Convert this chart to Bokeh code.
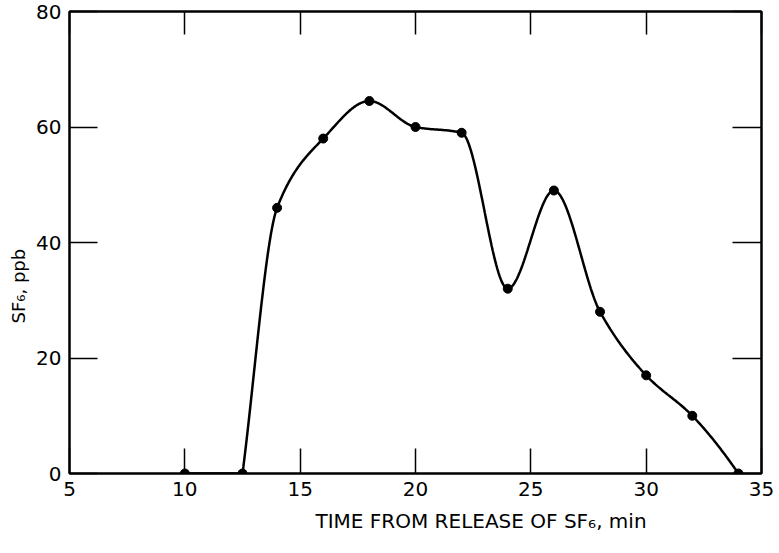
import numpy as np
from bokeh.plotting import figure
from bokeh.models import Range1d, LinearAxis, FixedTicker, Title, CustomLabelingPolicy
from bokeh.embed import file_html
from bokeh.resources import INLINE

# ---- data ----
time_min = [10, 12.5, 14, 16, 18, 20, 22, 24, 26, 28, 30, 32, 34]
sf6_ppb = [0, 0, 46, 58, 64.5, 60, 59, 32, 49, 28, 17, 10, 0]
x_ticks = [5, 10, 15, 20, 25, 30, 35]
y_ticks = [0, 20, 40, 60, 80]
x_title = "TIME FROM RELEASE OF SF₆, min"
y_title = "SF₆, ppb"

FONT = "DejaVu Sans"


def smooth_curve(xs, ys, n=40):
    """Monotone (PCHIP-like) Hermite smoothing through the points."""
    xs = np.asarray(xs, float)
    ys = np.asarray(ys, float)
    h = np.diff(xs)
    delta = np.diff(ys) / h
    m = len(xs)
    d = np.zeros(m)
    for k in range(1, m - 1):
        if delta[k - 1] * delta[k] <= 0:
            d[k] = 0.0
        else:
            w1 = 2 * h[k] + h[k - 1]
            w2 = h[k] + 2 * h[k - 1]
            d[k] = (w1 + w2) / (w1 / delta[k - 1] + w2 / delta[k])
    d[0] = delta[0]
    de = ((2 * h[-1] + h[-2]) * delta[-1] - h[-1] * delta[-2]) / (h[-1] + h[-2])
    if np.sign(de) != np.sign(delta[-1]):
        de = 0.0
    d[-1] = de
    outx, outy = [], []
    for k in range(m - 1):
        t = np.linspace(0, 1, n, endpoint=(k == m - 2))
        h00 = 2 * t**3 - 3 * t**2 + 1
        h10 = t**3 - 2 * t**2 + t
        h01 = -2 * t**3 + 3 * t**2
        h11 = t**3 - t**2
        outx.extend(xs[k] + t * h[k])
        outy.extend(h00 * ys[k] + h10 * h[k] * d[k] + h01 * ys[k + 1] + h11 * h[k] * d[k + 1])
    return outx, outy


# flat part before the rise, then smooth curve through the remaining points
cx, cy = smooth_curve(time_min[1:], sf6_ppb[1:])
cx = [time_min[0]] + list(cx)
cy = [sf6_ppb[0]] + list(cy)

p = figure(frame_width=692, frame_height=462,
           x_range=Range1d(5, 35), y_range=Range1d(0, 80),
           output_backend="svg", toolbar_location=None,
           min_border_left=66, min_border_right=13,
           min_border_top=11, min_border_bottom=10)

p.xgrid.visible = False
p.ygrid.visible = False
p.outline_line_color = "black"
p.outline_line_width = 2
p.background_fill_color = "white"
p.border_fill_color = "white"

no_labels = CustomLabelingPolicy(code="""
    for (const i of indices) indices.unset(i)
    return indices
""")


def style_axis(ax, ticks, tick_len, labels=True):
    ax.ticker = FixedTicker(ticks=ticks)
    ax.major_tick_in = tick_len
    ax.major_tick_out = 0
    ax.major_tick_line_width = 1.5
    ax.major_tick_line_color = "black"
    ax.minor_tick_line_color = None
    ax.axis_line_width = 2
    ax.axis_line_color = "black"
    ax.major_label_text_font = FONT
    ax.major_label_text_color = "black"
    if labels:
        ax.major_label_text_font_size = "20px"
        ax.major_label_standoff = 8
    else:
        ax.major_label_text_font_size = "0px"
        ax.major_label_policy = no_labels
        ax.major_label_standoff = 0


style_axis(p.xaxis[0], x_ticks, 25)
style_axis(p.yaxis[0], y_ticks, 28)

top_axis = LinearAxis()
style_axis(top_axis, x_ticks, 23, labels=False)
p.add_layout(top_axis, "above")

right_axis = LinearAxis()
style_axis(right_axis, y_ticks, 29, labels=False)
p.add_layout(right_axis, "right")

xt = Title(text=x_title, align="left", offset=246, text_font=FONT,
           text_font_size="20px", text_font_style="normal", text_color="black",
           standoff=16)
p.add_layout(xt, "below")

yt = Title(text=y_title, align="left", offset=150, text_font=FONT,
           text_font_size="18px", text_font_style="normal", text_color="black")
p.add_layout(yt, "left")

p.line(cx, cy, line_width=2.5, line_color="black")
p.scatter(time_min, sf6_ppb, size=9, color="black")

open("out.html", "w").write(file_html(p, INLINE))
